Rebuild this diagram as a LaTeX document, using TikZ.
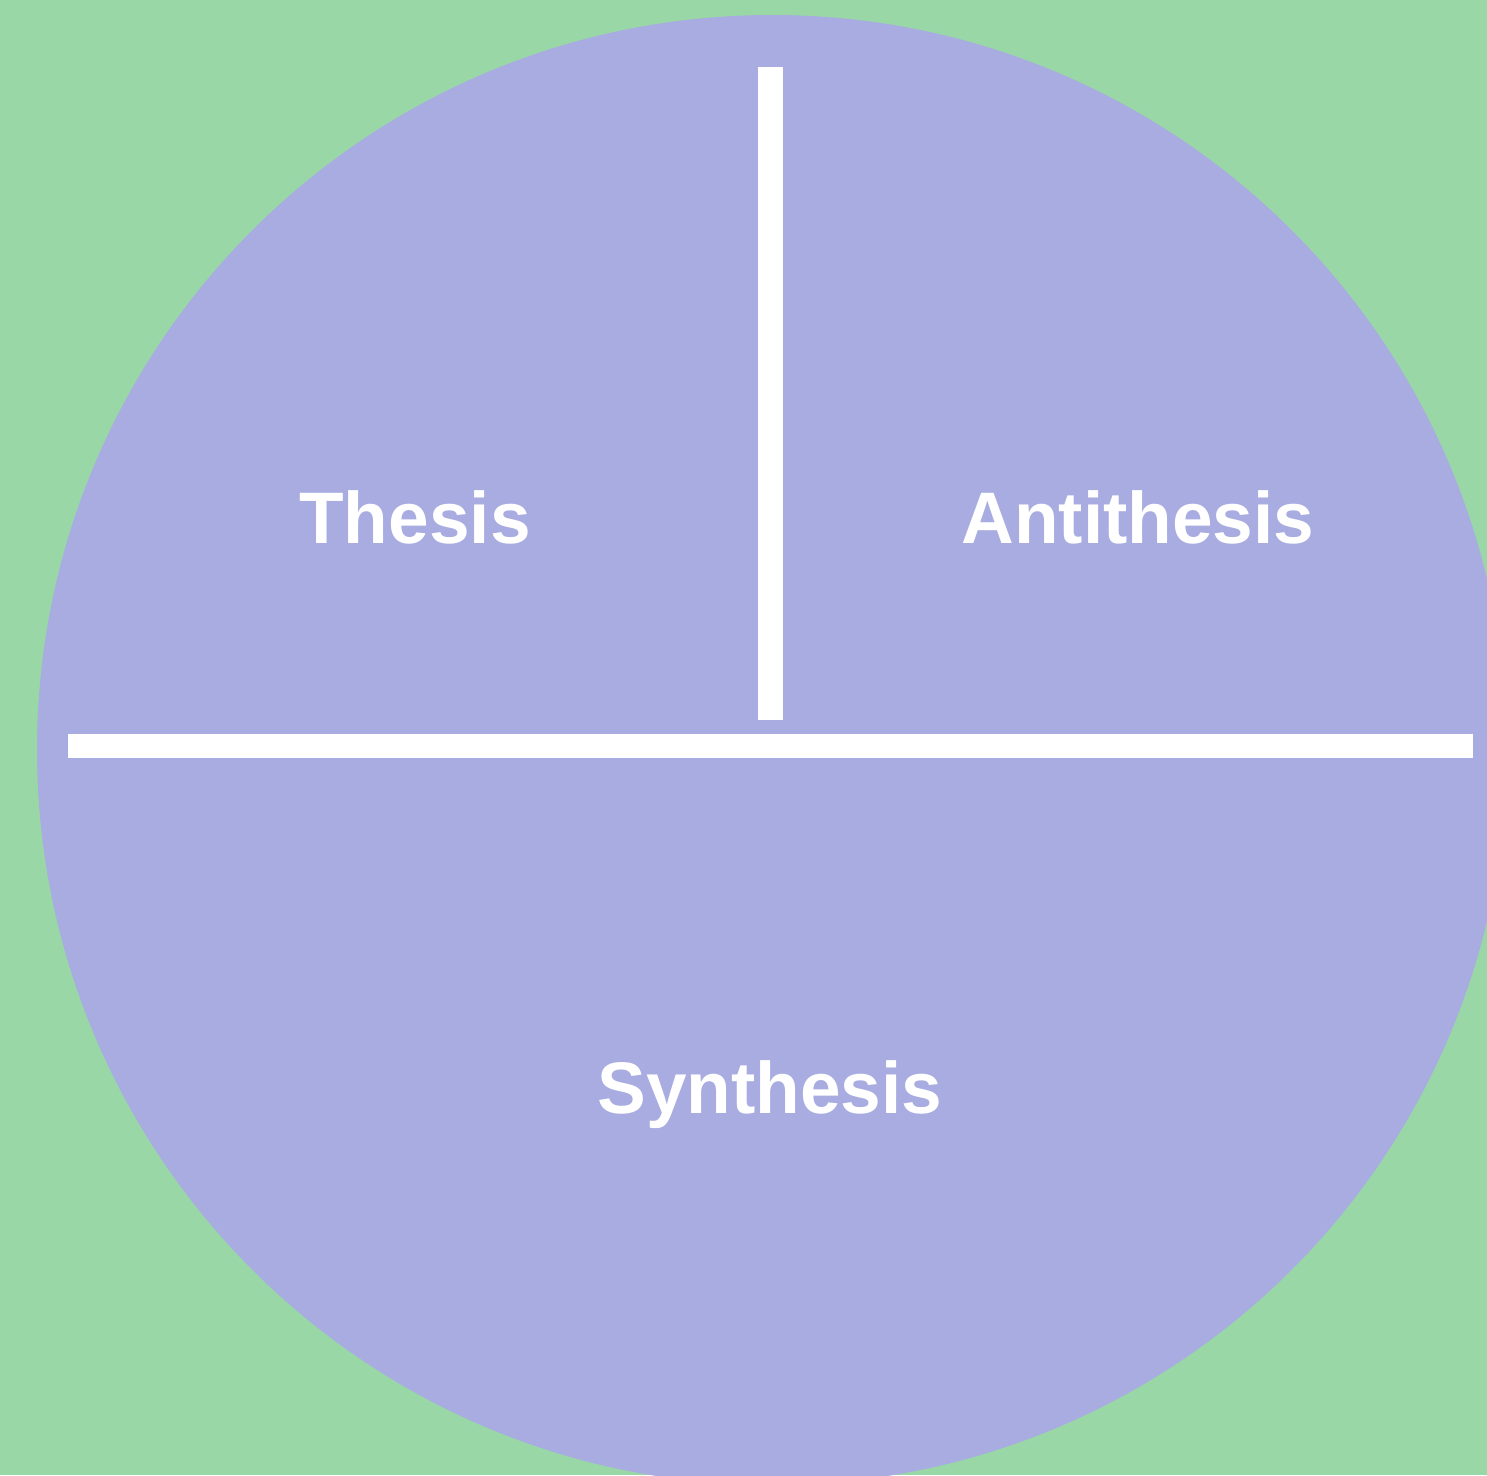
\documentclass[tikz,border=0pt]{standalone}
\usepackage{fontspec}
\setmainfont{Liberation Sans}
\definecolor{bggreen}{HTML}{99D8A6}
\definecolor{discpurple}{HTML}{A8ACE0}
\tikzset{
  lbl/.style={text=white, font=\fontsize{73}{80}\selectfont\bfseries, inner sep=0pt, anchor=base},
  bar/.style={fill=white, draw=none}
}
\begin{document}
\begin{tikzpicture}[x=1pt,y=-1pt]
\fill[bggreen] (0,0) rectangle (1487,1475);
\useasboundingbox (0,0) rectangle (1487,1475);
\begin{scope}
\clip (0,0) rectangle (1487,1475);
\fill[discpurple] (772,750) circle[radius=735];
\end{scope}
\fill[bar] (758,67) rectangle (783,720);
\fill[bar] (68,734) rectangle (1473,758);
\node[lbl] (thesis) at (415,543) {Thesis};
\node[lbl] (anti) at (1138,543) {Antithesis};
\node[lbl] (synth) at (770,1113) {Synthesis};
\end{tikzpicture}
\end{document}
